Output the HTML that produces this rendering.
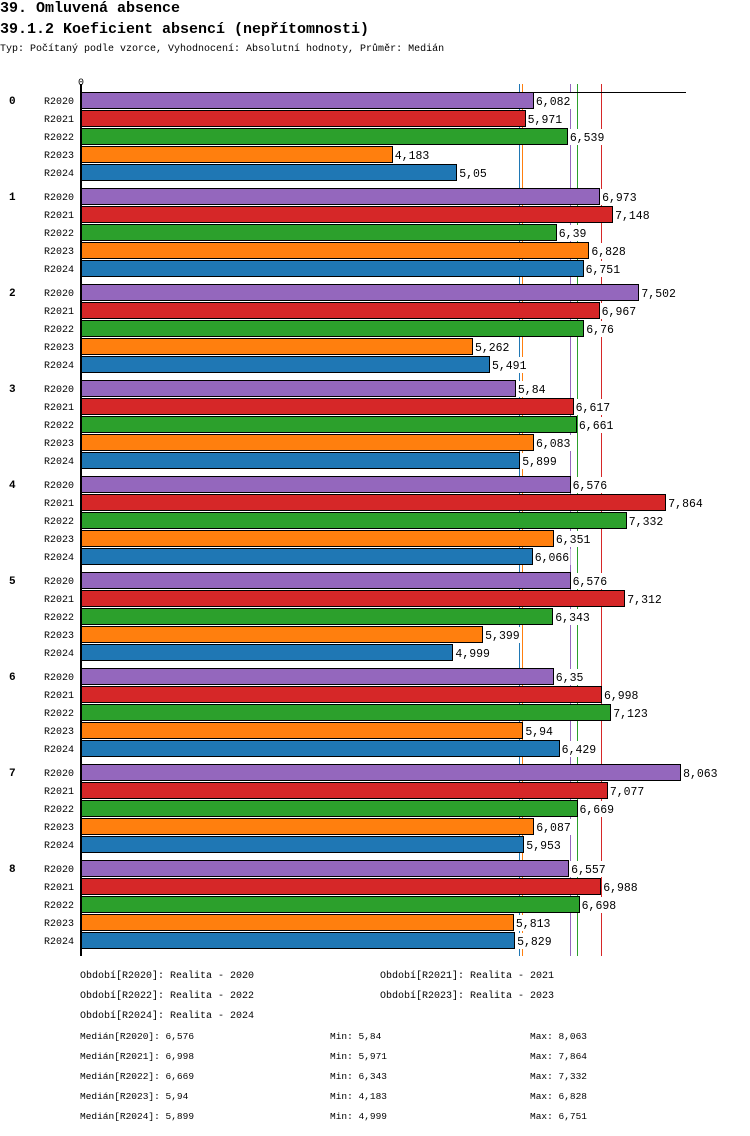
<!DOCTYPE html>
<html><head><meta charset="utf-8">
<style>
body{margin:0;background:#fff;width:750px;height:1136px;overflow:hidden;font-family:"Liberation Mono",monospace;}
.t1{position:absolute;left:0;font-size:15px;font-weight:bold;letter-spacing:0;}
.sub{position:absolute;left:0;top:44px;font-size:10px;}
.ft{position:absolute;font-size:10px;white-space:pre;}
</style></head><body>
<div class="t1" style="top:0px">39. Omluvená absence</div>
<div class="t1" style="top:21px">39.1.2 Koeficient absencí (nepřítomnosti)</div>
<div class="sub">Typ: Počítaný podle vzorce, Vyhodnocení: Absolutní hodnoty, Průměr: Medián</div>
<svg id="chart" width="750" height="960" style="position:absolute;left:0;top:0" shape-rendering="crispEdges"></svg>
<div>
<div class="ft" style="left:80px;top:971px">Období[R2020]: Realita - 2020</div>
<div class="ft" style="left:380px;top:971px">Období[R2021]: Realita - 2021</div>
<div class="ft" style="left:80px;top:991px">Období[R2022]: Realita - 2022</div>
<div class="ft" style="left:380px;top:991px">Období[R2023]: Realita - 2023</div>
<div class="ft" style="left:80px;top:1011px">Období[R2024]: Realita - 2024</div>
</div>
<div id="stats"></div>
<script>
const categories = ["0","1","2","3","4","5","6","7","8"];
const seriesNames = ["R2020","R2021","R2022","R2023","R2024"];
const r2020 = [6.082,6.973,7.502,5.84,6.576,6.576,6.35,8.063,6.557];
const r2021 = [5.971,7.148,6.967,6.617,7.864,7.312,6.998,7.077,6.988];
const r2022 = [6.539,6.39,6.76,6.661,7.332,6.343,7.123,6.669,6.698];
const r2023 = [4.183,6.828,5.262,6.083,6.351,5.399,5.94,6.087,5.813];
const r2024 = [5.05,6.751,5.491,5.899,6.066,4.999,6.429,5.953,5.829];
const medians = [6.576,6.998,6.669,5.94,5.899];
const axisTicks = ["0"];

const colors = ["#9467bd","#d62728","#2ca02c","#ff7f0e","#1f77b4"];
const series = [r2020,r2021,r2022,r2023,r2024];
const NS = "http://www.w3.org/2000/svg";
const svg = document.getElementById('chart');
const X0 = 81, PX = 74.3;
const xs = v => X0 + v * PX;
const barTop = (g, s) => 92 + g * 96 + s * 18;
function mk(tag, attrs){const e=document.createElementNS(NS,tag);for(const k in attrs)e.setAttribute(k,attrs[k]);svg.appendChild(e);return e;}
function fmt(v){return String(v).replace('.',',');}

medians.forEach((m,i)=>{
  const x = Math.round(xs(m))+0.5;
  const l = mk('line',{x1:x,x2:x,y1:84,y2:956,stroke:colors[i],'stroke-width':1});
  
  
});
const ax = mk('line',{x1:81,x2:686,y1:92.5,y2:92.5,stroke:'#000','stroke-width':1});


const ay = mk('line',{x1:81,x2:81,y1:84,y2:956,stroke:'#000','stroke-width':2});


axisTicks.forEach(t=>{
  const tt = mk('text',{x:xs(+t),y:85,'font-size':10,'text-anchor':'middle','font-family':'Liberation Mono, monospace'});
  tt.textContent = t;
  
  
});

categories.forEach((c,g)=>{
  const ct = mk('text',{x:9,y:barTop(g,0)+12,'font-size':11,'font-weight':'bold','font-family':'Liberation Mono, monospace'});
  ct.textContent = c;
  
  
  series.forEach((arr,s)=>{
    const y = barTop(g,s);
    const lt = mk('text',{x:74,y:y+12,'font-size':10,'text-anchor':'end','font-family':'Liberation Mono, monospace'});
    lt.textContent = seriesNames[s];
    
    
    const v = arr[g];
    const r = mk('rect',{x:81.5,y:y+0.5,width:Math.round(xs(v)-81),height:16,fill:colors[s],stroke:'#000','stroke-width':1});
    
    
    const txt = fmt(v);
    const bg = mk('rect',{x:xs(v)+2,y:y+1,width:txt.length*7+2,height:16,fill:'#fff'});
    
    
    const vt = mk('text',{x:xs(v)+3,y:y+13,'font-size':11.5,'font-family':'Liberation Mono, monospace'});
    vt.textContent = txt;
    
    
  });
});

const mins = series.map(a=>Math.min(...a));
const maxs = series.map(a=>Math.max(...a));
const st = document.getElementById('stats');
seriesNames.forEach((n,i)=>{
  const top = 1031 + i*20;
  [[80,'Medián['+n+']: '+fmt(medians[i]),'median'],[330,'Min: '+fmt(mins[i]),'min'],[530,'Max: '+fmt(maxs[i]),'max']].forEach(([x,t,k])=>{
    const d = document.createElement('div');
    d.className='ft'; d.style.left=x+'px'; d.style.top=top+'px'; d.style.fontSize='9.5px';
    d.textContent=t;
    
    
    st.appendChild(d);
  });
});
</script>
</body></html>
